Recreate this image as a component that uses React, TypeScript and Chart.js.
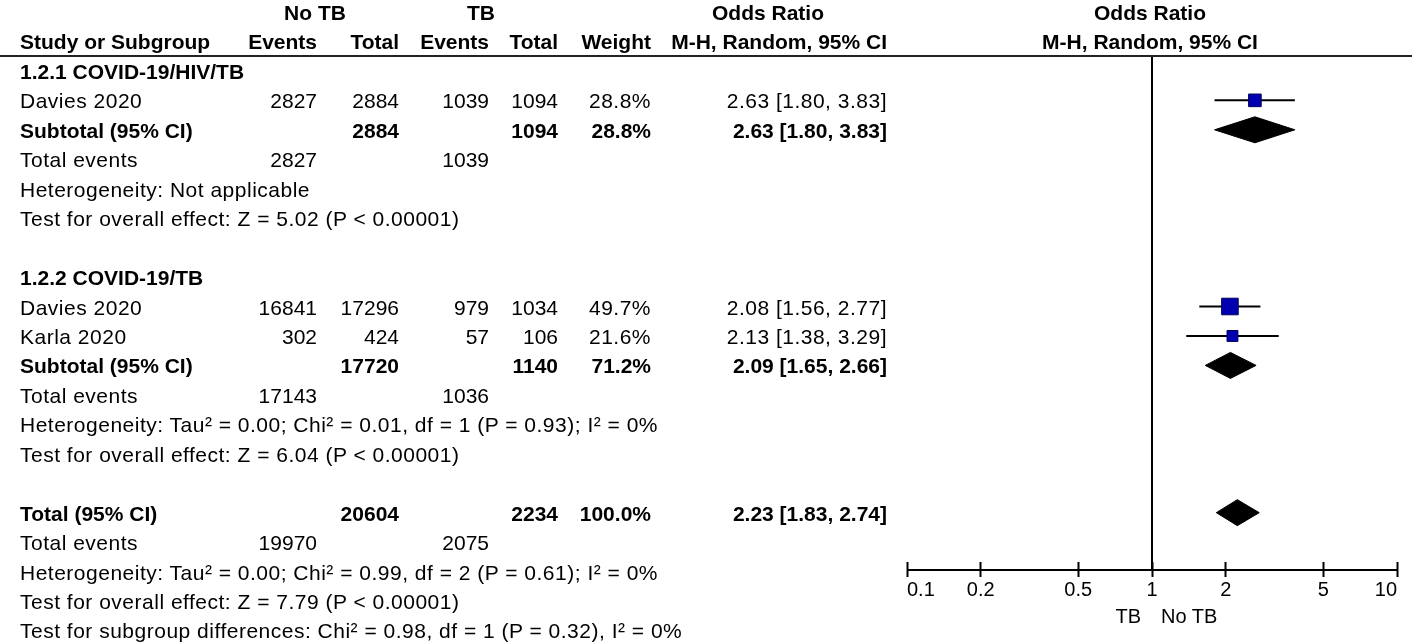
import React, { useEffect, useRef } from 'react';
import { Chart, registerables } from 'chart.js';

Chart.register(...registerables);

// ---------------- data ----------------
const GROUPS = ['1.2.1 COVID-19/HIV/TB', '1.2.2 COVID-19/TB'];

const STUDY_NAMES = ['Davies 2020', 'Davies 2020', 'Karla 2020'];
const STUDY_GROUP = [0, 1, 1];
const NOTB_EVENTS = [2827, 16841, 302];
const NOTB_TOTAL = [2884, 17296, 424];
const TB_EVENTS = [1039, 979, 57];
const TB_TOTAL = [1094, 1034, 106];
const WEIGHTS = [28.8, 49.7, 21.6];
const OR_EST = [2.63, 2.08, 2.13];
const OR_LO = [1.8, 1.56, 1.38];
const OR_HI = [3.83, 2.77, 3.29];

const SUB_NOTB_TOTAL = [2884, 17720];
const SUB_TB_TOTAL = [1094, 1140];
const SUB_WEIGHT = [28.8, 71.2];
const SUB_EST = [2.63, 2.09];
const SUB_LO = [1.8, 1.65];
const SUB_HI = [3.83, 2.66];
const SUB_EVENTS_NOTB = [2827, 17143];
const SUB_EVENTS_TB = [1039, 1036];
const SUB_HET = [
  'Heterogeneity: Not applicable',
  'Heterogeneity: Tau² = 0.00; Chi² = 0.01, df = 1 (P = 0.93); I² = 0%',
];
const SUB_TEST = [
  'Test for overall effect: Z = 5.02 (P < 0.00001)',
  'Test for overall effect: Z = 6.04 (P < 0.00001)',
];

const TOTAL_NOTB = 20604;
const TOTAL_TB = 2234;
const TOTAL_WEIGHT = 100.0;
const TOTAL_EST = 2.23;
const TOTAL_LO = 1.83;
const TOTAL_HI = 2.74;
const TOTAL_EVENTS_NOTB = 19970;
const TOTAL_EVENTS_TB = 2075;
const TOTAL_HET = 'Heterogeneity: Tau² = 0.00; Chi² = 0.99, df = 2 (P = 0.61); I² = 0%';
const TOTAL_TEST = 'Test for overall effect: Z = 7.79 (P < 0.00001)';
const SUBGROUP_TEST = 'Test for subgroup differences: Chi² = 0.98, df = 1 (P = 0.32), I² = 0%';

const X_TICKS = [0.1, 0.2, 0.5, 1, 2, 5, 10];
const FAVOURS_LEFT = 'TB';
const FAVOURS_RIGHT = 'No TB';

// ---------------- layout / style ----------------
const W = 1418;
const H = 644;
const ROW0 = 12;
const ROW_H = 29.45;
const PLOT_LEFT = 907;
const PLOT_RIGHT = 1397;
const PLOT_TOP = 56;
const PLOT_BOTTOM = 562;
const AXIS_Y = 570;
const FONT = 'Arial, "Liberation Sans", Helvetica, sans-serif';
const FS = 21;
const SQ_SCALE = 2.35;
const DIAMOND_HALF = 13 / ROW_H;
const SQ_FILL = '#0000b0';
const SQ_BORDER = '#00005a';

const COL = {
  name: 20,
  ne: 317,
  nt: 399,
  te: 489,
  tt: 558,
  w: 651,
  or: 887,
};

const fmtOR = (e: number, l: number, h: number) =>
  `${e.toFixed(2)} [${l.toFixed(2)}, ${h.toFixed(2)}]`;
const fmtW = (w: number) => `${w.toFixed(1)}%`;

type Txt = { t: string; x: number; row: number; align: 'left' | 'right' | 'center'; bold?: boolean };

// build table rows
const texts: Txt[] = [];
const studyRows: number[] = [];
const subRows: number[] = [];
let totalRow = 0;
(() => {
  texts.push({ t: 'No TB', x: 315, row: 0, align: 'center', bold: true });
  texts.push({ t: 'TB', x: 481, row: 0, align: 'center', bold: true });
  texts.push({ t: 'Odds Ratio', x: 768, row: 0, align: 'center', bold: true });
  texts.push({ t: 'Odds Ratio', x: 1150, row: 0, align: 'center', bold: true });
  texts.push({ t: 'Study or Subgroup', x: COL.name, row: 1, align: 'left', bold: true });
  texts.push({ t: 'Events', x: COL.ne, row: 1, align: 'right', bold: true });
  texts.push({ t: 'Total', x: COL.nt, row: 1, align: 'right', bold: true });
  texts.push({ t: 'Events', x: COL.te, row: 1, align: 'right', bold: true });
  texts.push({ t: 'Total', x: COL.tt, row: 1, align: 'right', bold: true });
  texts.push({ t: 'Weight', x: COL.w, row: 1, align: 'right', bold: true });
  texts.push({ t: 'M-H, Random, 95% CI', x: COL.or, row: 1, align: 'right', bold: true });
  texts.push({ t: 'M-H, Random, 95% CI', x: 1150, row: 1, align: 'center', bold: true });

  let r = 2;
  GROUPS.forEach((g, gi) => {
    texts.push({ t: g, x: COL.name, row: r, align: 'left', bold: true });
    r++;
    STUDY_NAMES.forEach((s, si) => {
      if (STUDY_GROUP[si] !== gi) return;
      studyRows[si] = r;
      texts.push({ t: s, x: COL.name, row: r, align: 'left' });
      texts.push({ t: String(NOTB_EVENTS[si]), x: COL.ne, row: r, align: 'right' });
      texts.push({ t: String(NOTB_TOTAL[si]), x: COL.nt, row: r, align: 'right' });
      texts.push({ t: String(TB_EVENTS[si]), x: COL.te, row: r, align: 'right' });
      texts.push({ t: String(TB_TOTAL[si]), x: COL.tt, row: r, align: 'right' });
      texts.push({ t: fmtW(WEIGHTS[si]), x: COL.w, row: r, align: 'right' });
      texts.push({ t: fmtOR(OR_EST[si], OR_LO[si], OR_HI[si]), x: COL.or, row: r, align: 'right' });
      r++;
    });
    subRows[gi] = r;
    texts.push({ t: 'Subtotal (95% CI)', x: COL.name, row: r, align: 'left', bold: true });
    texts.push({ t: String(SUB_NOTB_TOTAL[gi]), x: COL.nt, row: r, align: 'right', bold: true });
    texts.push({ t: String(SUB_TB_TOTAL[gi]), x: COL.tt, row: r, align: 'right', bold: true });
    texts.push({ t: fmtW(SUB_WEIGHT[gi]), x: COL.w, row: r, align: 'right', bold: true });
    texts.push({ t: fmtOR(SUB_EST[gi], SUB_LO[gi], SUB_HI[gi]), x: COL.or, row: r, align: 'right', bold: true });
    r++;
    texts.push({ t: 'Total events', x: COL.name, row: r, align: 'left' });
    texts.push({ t: String(SUB_EVENTS_NOTB[gi]), x: COL.ne, row: r, align: 'right' });
    texts.push({ t: String(SUB_EVENTS_TB[gi]), x: COL.te, row: r, align: 'right' });
    r++;
    texts.push({ t: SUB_HET[gi], x: COL.name, row: r, align: 'left' });
    r++;
    texts.push({ t: SUB_TEST[gi], x: COL.name, row: r, align: 'left' });
    r += 2;
  });
  totalRow = r;
  texts.push({ t: 'Total (95% CI)', x: COL.name, row: r, align: 'left', bold: true });
  texts.push({ t: String(TOTAL_NOTB), x: COL.nt, row: r, align: 'right', bold: true });
  texts.push({ t: String(TOTAL_TB), x: COL.tt, row: r, align: 'right', bold: true });
  texts.push({ t: fmtW(TOTAL_WEIGHT), x: COL.w, row: r, align: 'right', bold: true });
  texts.push({ t: fmtOR(TOTAL_EST, TOTAL_LO, TOTAL_HI), x: COL.or, row: r, align: 'right', bold: true });
  r++;
  texts.push({ t: 'Total events', x: COL.name, row: r, align: 'left' });
  texts.push({ t: String(TOTAL_EVENTS_NOTB), x: COL.ne, row: r, align: 'right' });
  texts.push({ t: String(TOTAL_EVENTS_TB), x: COL.te, row: r, align: 'right' });
  r++;
  texts.push({ t: TOTAL_HET, x: COL.name, row: r, align: 'left' });
  r++;
  texts.push({ t: TOTAL_TEST, x: COL.name, row: r, align: 'left' });
  r++;
  texts.push({ t: SUBGROUP_TEST, x: COL.name, row: r, align: 'left' });
})();

const Y_MIN = (PLOT_TOP - ROW0) / ROW_H;
const Y_MAX = (PLOT_BOTTOM - ROW0) / ROW_H;
const AXIS_ROW = (AXIS_Y - ROW0) / ROW_H;

function diamond(est: number, lo: number, hi: number, row: number) {
  return {
    type: 'line' as const,
    data: [
      { x: lo, y: row },
      { x: est, y: row - DIAMOND_HALF },
      { x: hi, y: row },
      { x: est, y: row + DIAMOND_HALF },
      { x: lo, y: row },
    ],
    borderColor: '#000',
    backgroundColor: '#000',
    borderWidth: 1,
    pointRadius: 0,
    fill: 'shape' as any,
    tension: 0,
    order: 1,
  };
}

function buildDatasets() {
  const ds: any[] = [];
  ds.push({
    type: 'scatter',
    data: OR_EST.map((e, i) => ({ x: e, y: studyRows[i] })),
    pointStyle: 'rect',
    pointRadius: (ctx: any) => (SQ_SCALE * Math.sqrt(WEIGHTS[ctx.dataIndex])) / Math.SQRT2,
    pointBackgroundColor: SQ_FILL,
    pointBorderColor: SQ_BORDER,
    pointBorderWidth: 1,
    order: 0,
  });
  OR_EST.forEach((_, i) => {
    ds.push({
      type: 'line',
      data: [
        { x: OR_LO[i], y: studyRows[i] },
        { x: OR_HI[i], y: studyRows[i] },
      ],
      borderColor: '#000',
      borderWidth: 2,
      pointRadius: 0,
      fill: false,
      order: 1,
    });
  });
  SUB_EST.forEach((e, gi) => ds.push(diamond(e, SUB_LO[gi], SUB_HI[gi], subRows[gi])));
  ds.push(diamond(TOTAL_EST, TOTAL_LO, TOTAL_HI, totalRow));
  ds.push({
    type: 'line',
    data: [
      { x: 1, y: Y_MIN },
      { x: 1, y: AXIS_ROW },
    ],
    borderColor: '#000',
    borderWidth: 2,
    pointRadius: 0,
    fill: false,
    clip: false,
    order: 2,
  });
  ds.push({
    type: 'line',
    data: [
      { x: X_TICKS[0], y: AXIS_ROW },
      { x: X_TICKS[X_TICKS.length - 1], y: AXIS_ROW },
    ],
    borderColor: '#000',
    borderWidth: 2,
    pointRadius: 0,
    fill: false,
    clip: false,
    order: 2,
  });
  return ds;
}

const isInt = (s: string) => /^\d+$/.test(s);

export default function App() {
  const ref = useRef<HTMLCanvasElement>(null);
  useEffect(() => {
    if (!ref.current) return;
    const chart = new Chart(ref.current, {
      type: 'scatter',
      data: { datasets: buildDatasets() },
      options: {
        animation: false,
        responsive: false,
        devicePixelRatio: 1,
        layout: { padding: { left: PLOT_LEFT, right: W - PLOT_RIGHT, top: PLOT_TOP, bottom: 0 } },
        plugins: { legend: { display: false }, tooltip: { enabled: false }, title: { display: false } },
        events: [],
        scales: {
          x: {
            type: 'logarithmic',
            min: X_TICKS[0],
            max: X_TICKS[X_TICKS.length - 1],
            position: 'bottom',
            afterBuildTicks: (s: any) => {
              s.ticks = X_TICKS.map((v) => ({ value: v }));
            },
            afterFit: (s: any) => {
              s.height = H - PLOT_BOTTOM;
            },
            ticks: {
              autoSkip: false,
              maxRotation: 0,
              minRotation: 0,
              align: 'inner',
              padding: 1,
              color: '#000',
              font: { family: FONT, size: 20 },
              callback: (v: any) => String(v),
            },
            grid: {
              drawOnChartArea: false,
              drawTicks: true,
              tickLength: 15,
              tickWidth: 2,
              color: '#000',
            },
            border: { display: false },
          },
          y: {
            type: 'linear',
            display: false,
            reverse: true,
            min: Y_MIN,
            max: Y_MAX,
          },
        },
      } as any,
    });
    return () => chart.destroy();
  }, []);

  return (
    <div
      style={{
        position: 'absolute',
        left: 0,
        top: 0,
        width: W,
        height: H,
        background: '#fff',
        overflow: 'hidden',
        fontFamily: FONT,
        color: '#000',
      }}
    >
      <canvas ref={ref} width={W} height={H} style={{ position: 'absolute', left: 0, top: 0, width: W, height: H }} />
      <div style={{ position: 'absolute', left: 0, top: 55, width: 1412, height: 2, background: '#222' }} />
      {texts.map((d, i) => {
        const cy = ROW0 + ROW_H * d.row + 1;
        const spacing = d.bold || isInt(d.t) ? 0 : 0.5;
        const base: React.CSSProperties = {
          position: 'absolute',
          top: cy - 12,
          height: 24,
          lineHeight: '24px',
          fontSize: FS,
          fontWeight: d.bold ? 700 : 400,
          letterSpacing: spacing,
          whiteSpace: 'nowrap',
        };
        if (d.align === 'left') return <div key={i} style={{ ...base, left: d.x }}>{d.t}</div>;
        if (d.align === 'right')
          return <div key={i} style={{ ...base, left: d.x - 400, width: 400, textAlign: 'right' }}>{d.t}</div>;
        return <div key={i} style={{ ...base, left: d.x - 200, width: 400, textAlign: 'center' }}>{d.t}</div>;
      })}
      <div style={{ position: 'absolute', left: 1141 - 100, width: 100, top: 604, lineHeight: '24px', fontSize: 20, textAlign: 'right' }}>
        {FAVOURS_LEFT}
      </div>
      <div style={{ position: 'absolute', left: 1161, top: 604, lineHeight: '24px', fontSize: 20, whiteSpace: 'nowrap' }}>
        {FAVOURS_RIGHT}
      </div>
    </div>
  );
}
